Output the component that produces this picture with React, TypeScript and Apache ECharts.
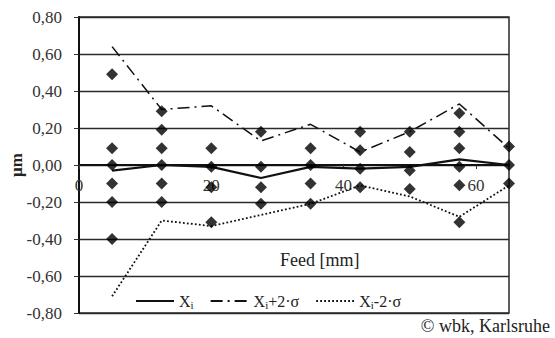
import React, { useEffect, useRef } from "react";
import * as echarts from "echarts";

const feed = [5, 12.5, 20, 27.5, 35, 42.5, 50, 57.5, 65];
const meanXi = [-0.03, 0.0, -0.01, -0.07, -0.01, -0.02, -0.01, 0.03, 0.0];
const upperXi = [0.64, 0.3, 0.32, 0.13, 0.22, 0.07, 0.18, 0.33, 0.09];
const lowerXi = [-0.71, -0.3, -0.33, -0.27, -0.21, -0.11, -0.17, -0.28, -0.11];

const meas1 = [0.49, 0.09, 0.0, -0.1, -0.2, -0.4];
const meas2 = [0.29, 0.19, 0.09, 0.0, -0.1, -0.2];
const meas3 = [0.09, -0.01, -0.12, -0.31];
const meas4 = [0.18, -0.01, -0.12, -0.21];
const meas5 = [0.09, 0.0, -0.1, -0.21];
const meas6 = [0.18, 0.08, -0.02, -0.12];
const meas7 = [0.18, 0.07, -0.03, -0.13];
const meas8 = [0.28, 0.18, 0.09, -0.01, -0.11, -0.31];
const meas9 = [0.1, 0.0, -0.1];
const measurements = [meas1, meas2, meas3, meas4, meas5, meas6, meas7, meas8, meas9];

const xTicks = [0, 20, 40, 60];
const seriesNames = ["Xi", "Xi+2σ", "Xi-2σ"];
const legendLabels: Record<string, string> = {
  "Xi": "{a|X}{s|i}",
  "Xi+2σ": "{a|X}{s|i}{a|+2·σ}",
  "Xi-2σ": "{a|X}{s|i}{a|-2·σ}",
};

const FONT = "Liberation Serif";

export default function App() {
  const ref = useRef<HTMLDivElement>(null);
  useEffect(() => {
    if (!ref.current) return;
    const chart = echarts.init(ref.current, undefined, { renderer: "svg" });
    const scatterData: number[][] = [];
    measurements.forEach((col, i) => col.forEach((v) => scatterData.push([feed[i], v])));
    const pairs = (arr: number[]) => arr.map((v, i) => [feed[i], v]);
    chart.setOption({
      animation: false,
      backgroundColor: "#fff",
      textStyle: { fontFamily: FONT },
      grid: {
        left: 79,
        top: 17,
        right: 46,
        bottom: 25,
        show: true,
        borderColor: "#2a2a2a",
        borderWidth: 1.5,
        containLabel: false,
        outerBoundsMode: "none",
      },
      xAxis: {
        type: "value",
        min: 0,
        max: 65,
        interval: 20,
        position: "bottom",
        offset: -148,
        axisLine: { onZero: false, lineStyle: { color: "#111", width: 2 } },
        axisTick: { show: true, length: 4, lineStyle: { color: "#333" } },
        splitLine: { show: false },
        axisLabel: {
          showMaxLabel: false,
          margin: 12,
          fontSize: 17,
          color: "#333",
          fontFamily: FONT,
          formatter: (v: number) => (xTicks.includes(v) ? String(v) : ""),
        },
      },
      yAxis: {
        type: "value",
        min: -0.8,
        max: 0.8,
        interval: 0.2,
        axisLine: { show: true, onZero: false, lineStyle: { color: "#111", width: 2 } },
        axisTick: { show: true, length: 5, lineStyle: { color: "#333" } },
        splitLine: { show: true, lineStyle: { color: "#2a2a2a", width: 1.3 } },
        axisLabel: {
          margin: 17,
          fontSize: 17,
          color: "#333",
          fontFamily: FONT,
          formatter: (v: number) => v.toFixed(2).replace(".", ","),
        },
      },
      legend: {
        data: seriesNames,
        left: 130,
        top: 288,
        itemWidth: 38,
        itemHeight: 14,
        itemGap: 16,
        itemStyle: { opacity: 0 },
        formatter: (name: string) => legendLabels[name],
        textStyle: {
          fontFamily: FONT,
          color: "#222",
          rich: {
            a: { fontSize: 16, fontFamily: FONT, color: "#222", lineHeight: 19 },
            s: { fontSize: 11, fontFamily: FONT, color: "#222", lineHeight: 11, verticalAlign: "bottom", padding: [6, 0, 0, 0] },
          },
        },
      },
      graphic: [
        {
          type: "text",
          x: 16,
          y: 165,
          rotation: Math.PI / 2,
          style: {
            text: "µm",
            fontSize: 17,
            fontWeight: "bold",
            fontFamily: FONT,
            fill: "#222",
            align: "center",
            verticalAlign: "middle",
          },
        },
        {
          type: "text",
          left: 280,
          top: 251,
          style: { text: "Feed [mm]", fontSize: 18, fontFamily: FONT, fill: "#222" },
        },
        {
          type: "text",
          right: 5,
          top: 317,
          style: { text: "© wbk, Karlsruhe", fontSize: 18, fontFamily: FONT, fill: "#222" },
        },
      ],
      series: [
        {
          name: "Xi",
          type: "line",
          data: pairs(meanXi),
          symbol: "none",
          lineStyle: { color: "#111", width: 2.2, type: "solid" },
          itemStyle: { color: "#111" },
          z: 3,
        },
        {
          name: "Xi+2σ",
          type: "line",
          data: pairs(upperXi),
          symbol: "none",
          lineStyle: { color: "#111", width: 1.5, type: [12, 5, 2, 5] },
          itemStyle: { color: "#111" },
          z: 3,
        },
        {
          name: "Xi-2σ",
          type: "line",
          data: pairs(lowerXi),
          symbol: "none",
          lineStyle: { color: "#111", width: 1.8, type: [1.8, 2.2] },
          itemStyle: { color: "#111" },
          z: 3,
        },
        {
          name: "Measurements",
          type: "scatter",
          data: scatterData,
          symbol: "diamond",
          symbolSize: [12, 12],
          itemStyle: { color: "#000" },
          z: 5,
        },
      ],
    });
    return () => chart.dispose();
  }, []);
  return (
    <div
      ref={ref}
      style={{ position: "fixed", left: 0, top: 0, width: 555, height: 338, background: "#fff" }}
    />
  );
}
